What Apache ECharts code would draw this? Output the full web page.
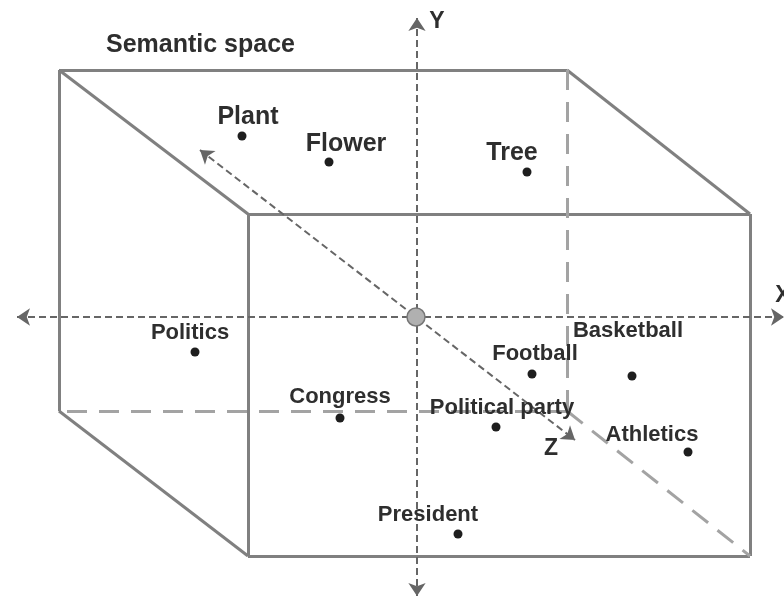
<!DOCTYPE html>
<html>
<head>
<meta charset="utf-8">
<script src="https://cdn.jsdelivr.net/npm/echarts@6/dist/echarts.min.js"></script>
<style>
  html, body { margin: 0; padding: 0; background: #fff; }
  #main { width: 784px; height: 597px; }
</style>
</head>
<body>
<div id="main"></div>
<script>
// words placed in the semantic space (picture coordinates, y grows downward)
var words = ['Plant', 'Flower', 'Tree', 'Politics', 'Congress', 'Football', 'Basketball', 'Political party', 'Athletics', 'President'];
var wordX = [242, 329, 527, 195, 340, 532, 632, 496, 688, 458];
var wordY = [136, 162, 172, 352, 418, 374, 376, 427, 452, 534];
var labelX = [248, 346, 512, 190, 340, 535, 628, 502, 652, 428];
var labelY = [117, 144, 153, 333, 397, 354, 331, 408, 435, 515];

// cube corners: back face and front face
var backFace = [[59, 70], [567, 70], [567, 411], [59, 411]];
var frontFace = [[248, 214], [750, 214], [750, 556], [248, 556]];

// axes through the origin
var origin = [416, 317];
var axisX = [[17, 317], [784, 317]];
var axisY = [[417, 18], [417, 596]];
var axisZ = [[200, 150], [575, 440]];
var axisNames = ['X', 'Y', 'Z'];
var axisNamePos = [[783, 296], [437, 22], [551, 449]];

var chart = echarts.init(document.getElementById('main'));

var edgeColor = '#808080';
var solidEdges = [
  [backFace[0], backFace[1]], [backFace[0], backFace[3]],
  [frontFace[0], frontFace[1]], [frontFace[1], frontFace[2]],
  [frontFace[2], frontFace[3]], [frontFace[3], frontFace[0]],
  [backFace[0], frontFace[0]], [backFace[1], frontFace[1]],
  [backFace[3], frontFace[3]]
];
var hiddenEdges = [
  [backFace[1], backFace[2]], [backFace[2], backFace[3]],
  [backFace[2], frontFace[2]]
];

function toLines(list) {
  return list.map(function (p) { return { coords: p }; });
}

var font = '"Liberation Sans", Arial, Helvetica, sans-serif';

var option = {
  animation: false,
  backgroundColor: '#fff',
  title: {
    text: 'Semantic space',
    left: 101,
    top: 28,
    textStyle: { fontFamily: font, fontSize: 25, fontWeight: 'bold', color: '#2e2e2e' }
  },
  grid: { left: 0, right: 0, top: 0, bottom: 0 },
  xAxis: { type: 'value', min: 0, max: 784, show: false },
  yAxis: { type: 'value', min: 0, max: 597, inverse: true, show: false },
  series: [
    {
      type: 'lines',
      coordinateSystem: 'cartesian2d',
      symbol: 'none',
      lineStyle: { color: edgeColor, width: 3, opacity: 1 },
      data: toLines(solidEdges),
      z: 1
    },
    {
      type: 'lines',
      coordinateSystem: 'cartesian2d',
      symbol: 'none',
      lineStyle: { color: '#a3a3a3', width: 3, type: [20, 12], opacity: 1 },
      data: toLines(hiddenEdges),
      z: 1
    },
    {
      type: 'lines',
      coordinateSystem: 'cartesian2d',
      symbol: ['arrow', 'arrow'],
      symbolSize: 13,
      lineStyle: { color: '#666', width: 2, type: [7, 4], opacity: 1 },
      data: toLines([axisX, axisY, axisZ]),
      z: 2
    },
    {
      type: 'scatter',
      symbol: 'circle',
      symbolSize: 18,
      itemStyle: { color: '#b0b0b0', borderColor: '#777', borderWidth: 1.5, opacity: 1 },
      data: [origin],
      z: 3
    },
    {
      type: 'scatter',
      symbol: 'circle',
      symbolSize: 9,
      itemStyle: { color: '#1e1e1e', opacity: 1 },
      data: words.map(function (w, i) { return [wordX[i], wordY[i]]; }),
      z: 4
    },
    {
      type: 'scatter',
      symbolSize: 0,
      silent: true,
      itemStyle: { opacity: 1 },
      label: {
        show: true,
        position: 'inside',
        fontFamily: font,
        fontWeight: 'bold',
        color: '#2e2e2e',
        formatter: function (p) { return p.name; }
      },
      data: words.map(function (w, i) {
        return {
          name: w,
          value: [labelX[i], labelY[i]],
          label: { fontSize: i < 3 ? 25 : 22 }
        };
      }),
      z: 5
    },
    {
      type: 'scatter',
      symbolSize: 0,
      silent: true,
      itemStyle: { opacity: 1 },
      label: {
        show: true,
        position: 'inside',
        fontFamily: font,
        fontWeight: 'bold',
        fontSize: 23,
        color: '#2e2e2e',
        formatter: function (p) { return p.name; }
      },
      data: axisNames.map(function (n, i) {
        return { name: n, value: axisNamePos[i] };
      }),
      z: 5
    }
  ]
};

chart.setOption(option);
</script>
</body>
</html>
